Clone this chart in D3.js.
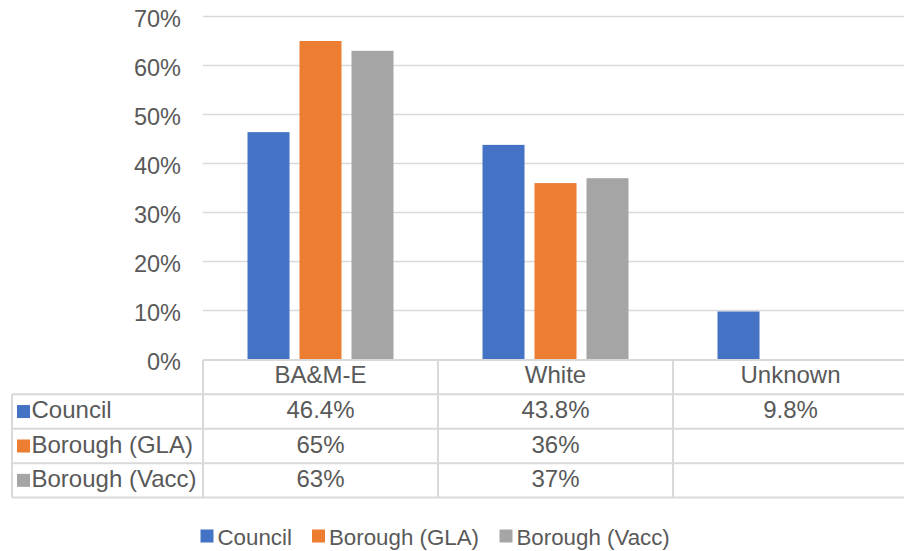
<!DOCTYPE html>
<html><head><meta charset="utf-8">
<script src="https://cdn.jsdelivr.net/npm/d3@7"></script>
<style>body{margin:0;background:#fff}svg{display:block}</style>
</head><body>
<svg id="c" width="904" height="551"></svg>
<script>
const categories = ["BA&M-E", "White", "Unknown"];
const seriesNames = ["Council", "Borough (GLA)", "Borough (Vacc)"];
const council = [46.4, 43.8, 9.8];
const boroughGLA = [65, 36, null];
const boroughVacc = [63, 37, null];
const councilLabels = ["46.4%", "43.8%", "9.8%"];
const glaLabels = ["65%", "36%", ""];
const vaccLabels = ["63%", "37%", ""];
const tickValues = [0, 10, 20, 30, 40, 50, 60, 70];
const colors = ["#4472C4", "#ED7D31", "#A5A5A5"];

const seriesValues = [council, boroughGLA, boroughVacc];
const seriesLabels = [councilLabels, glaLabels, vaccLabels];

const svg = d3.select("#c");
const font = "'Liberation Sans', Arial, sans-serif";
const txt = "#595959", grid = "#D9D9D9";

const plotL = 203, plotR = 908, plotT = 16.5, plotB = 359.5;
const x = d3.scaleBand().domain(categories).range([plotL, plotR]).paddingInner(0).paddingOuter(0);
const xs = d3.scaleBand().domain(seriesNames).range([0, x.bandwidth()]).paddingInner(0.192).paddingOuter(0.856);
const y = d3.scaleLinear().domain([0, 70]).range([plotB, plotT]);

// gridlines
svg.append("g").selectAll("line").data(tickValues.filter(t => t > 0)).join("line")
  .attr("x1", plotL).attr("x2", plotR)
  .attr("y1", d => y(d)).attr("y2", d => y(d))
  .attr("stroke", grid).attr("stroke-width", 1.5);

// y axis labels
const yAxis = d3.axisLeft(y).tickValues(tickValues).tickFormat(d => d + "%").tickSize(0).tickPadding(0);
const ga = svg.append("g").attr("transform", `translate(181,0)`).call(yAxis);
ga.select(".domain").remove();
ga.selectAll("text").attr("fill", txt).style("font-family", font).style("font-size", "23.5px").attr("dy", "0.42em");

// bars
seriesNames.forEach((s, si) => {
  svg.append("g").selectAll("rect")
    .data(categories.map((c, i) => ({c, v: seriesValues[si][i]})).filter(d => d.v != null))
    .join("rect")
    .attr("x", d => x(d.c) + xs(s))
    .attr("width", xs.bandwidth())
    .attr("y", d => y(d.v))
    .attr("height", d => y(0) - y(d.v))
    .attr("fill", colors[si]);
});

// data table
const tableL = 12;
const rowY = [360, 394.3, 428.8, 463.2, 497.5];
const tg = svg.append("g");
const lineAttrs = sel => sel.attr("stroke", grid).attr("stroke-width", 2);
tg.append("line").attr("x1", plotL).attr("x2", plotR).attr("y1", rowY[0]).attr("y2", rowY[0]).call(lineAttrs);
rowY.slice(1).forEach(ry => tg.append("line").attr("x1", tableL).attr("x2", plotR).attr("y1", ry).attr("y2", ry).call(lineAttrs));
tg.append("line").attr("x1", tableL).attr("x2", tableL).attr("y1", rowY[1]).attr("y2", rowY[4]).call(lineAttrs);
categories.forEach(c => tg.append("line").attr("x1", x(c)).attr("x2", x(c)).attr("y1", rowY[0]).attr("y2", rowY[4]).call(lineAttrs));
tg.append("line").attr("x1", plotR - 1).attr("x2", plotR - 1).attr("y1", rowY[0]).attr("y2", rowY[4]).call(lineAttrs);

// header
tg.selectAll("text.h").data(categories).join("text").attr("class", "h")
  .attr("x", d => x(d) + x.bandwidth() / 2).attr("y", 383)
  .attr("text-anchor", "middle")
  .attr("fill", txt).style("font-family", font).style("font-size", "24px").text(d => d);

// rows
seriesNames.forEach((s, si) => {
  const cy = (rowY[si + 1] + rowY[si + 2]) / 2;
  const base = cy + 6.6;
  tg.append("rect").attr("x", 17).attr("y", cy - 6.5).attr("width", 13).attr("height", 13).attr("fill", colors[si]);
  tg.append("text").attr("x", 31.5).attr("y", base)
    .attr("fill", txt).style("font-family", font).style("font-size", "24px").text(s);
  tg.selectAll(null).data(categories).join("text")
    .attr("x", d => x(d) + x.bandwidth() / 2).attr("y", base).attr("text-anchor", "middle")
    .attr("fill", txt).style("font-family", font).style("font-size", "24px")
    .text((d, i) => seriesLabels[si][i]);
});

// legend
const legendX = [200.5, 312, 499.5];
const lg = svg.append("g");
seriesNames.forEach((s, si) => {
  lg.append("rect").attr("x", legendX[si]).attr("y", 529.5).attr("width", 13).attr("height", 13).attr("fill", colors[si]);
  lg.append("text").attr("x", legendX[si] + 17).attr("y", 545)
    .attr("fill", txt).style("font-family", font).style("font-size", "22.3px").text(s);
});
</script>
</body></html>
